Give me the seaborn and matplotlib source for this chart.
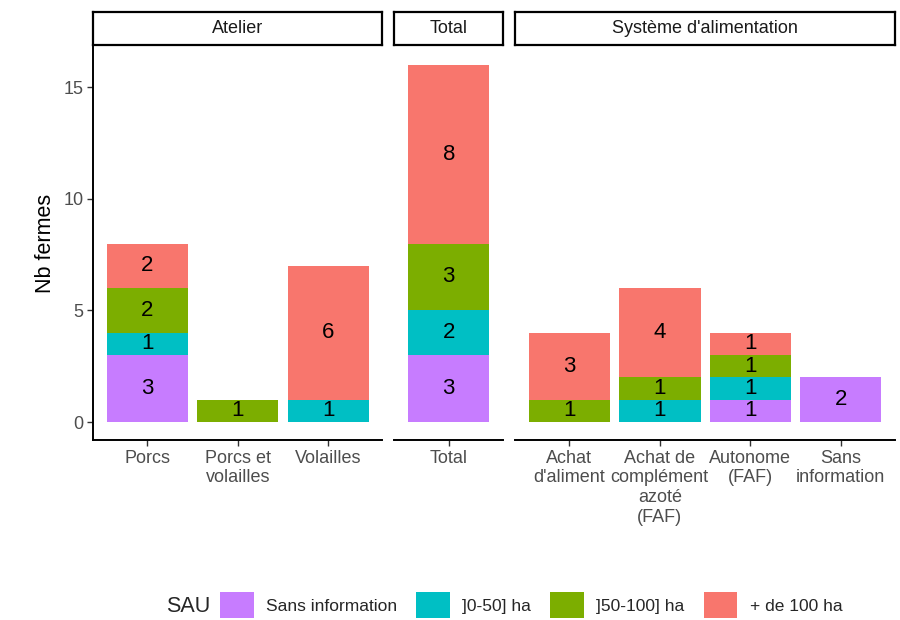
import matplotlib
matplotlib.use("Agg")
import matplotlib.pyplot as plt
from matplotlib.patches import Patch
import seaborn as sns
import pandas as pd
import numpy as np

# ---- data ----
sau_levels = ["Sans information", "]0-50] ha", "]50-100] ha", "+ de 100 ha"]
sau_colors = ["#C77CFF", "#00BFC4", "#7CAE00", "#F8766D"]

panel_titles = ["Atelier", "Total", "Système d'alimentation"]

atelier_cats = ["Porcs", "Porcs et\nvolailles", "Volailles"]
atelier_sans_info = [3, 0, 0]
atelier_0_50 = [1, 0, 1]
atelier_50_100 = [2, 1, 0]
atelier_100_plus = [2, 0, 6]

total_cats = ["Total"]
total_sans_info = [3]
total_0_50 = [2]
total_50_100 = [3]
total_100_plus = [8]

systeme_cats = ["Achat\nd'aliment", "Achat de\ncomplément\nazoté\n(FAF)", "Autonome\n(FAF)", "Sans\ninformation"]
systeme_sans_info = [0, 0, 1, 2]
systeme_0_50 = [0, 1, 1, 0]
systeme_50_100 = [1, 1, 1, 0]
systeme_100_plus = [3, 4, 1, 0]

y_ticks = [0, 5, 10, 15]

panels = [
    (atelier_cats, [atelier_sans_info, atelier_0_50, atelier_50_100, atelier_100_plus]),
    (total_cats, [total_sans_info, total_0_50, total_50_100, total_100_plus]),
    (systeme_cats, [systeme_sans_info, systeme_0_50, systeme_50_100, systeme_100_plus]),
]

# ---- style ----
sns.set_theme(style="white")
plt.rcParams["font.family"] = ["Liberation Sans", "DejaVu Sans"]

W, H = 900, 620
fig = plt.figure(figsize=(W / 100, H / 100), dpi=100)

left_px, right_px = 93, 895
gap_px = 12
top_px, bottom_px = 47, 440
strip_top, strip_bot = 12, 45
units = [len(c) + 0.2 for c, _ in panels]
unit_px = (right_px - left_px - gap_px * (len(panels) - 1)) / sum(units)

ymax_all = max(np.sum(np.array(v), axis=0).max() for _, v in panels)
ylim = (-0.05 * ymax_all, ymax_all * 1.05)

x0 = left_px
for i, ((cats, vals), title) in enumerate(zip(panels, panel_titles)):
    wpx = units[i] * unit_px
    ax = fig.add_axes([x0 / W, 1 - bottom_px / H, wpx / W, (bottom_px - top_px) / H])
    sax = fig.add_axes([x0 / W, 1 - strip_bot / H, wpx / W, (strip_bot - strip_top) / H])
    x0 += wpx + gap_px

    arr = np.array(vals, dtype=float)
    cum = np.cumsum(arr, axis=0)
    # draw from top layer down so lower layers overlay
    for k in range(len(sau_levels) - 1, -1, -1):
        df = pd.DataFrame({"cat": cats, "top": cum[k]})
        sns.barplot(data=df, x="cat", y="top", color=sau_colors[k], width=0.9,
                    saturation=1, ax=ax, order=cats, errorbar=None, linewidth=0)
    for k in range(len(sau_levels)):
        for j in range(len(cats)):
            v = arr[k, j]
            if v > 0:
                ax.text(j, cum[k, j] - v / 2, f"{int(v)}", ha="center", va="center",
                        fontsize=16, color="black")

    ax.set_xlim(-0.6, len(cats) - 0.4)
    ax.set_ylim(*ylim)
    ax.set_xlabel("")
    ax.set_ylabel("")
    for s in ["top", "right"]:
        ax.spines[s].set_visible(False)
    ax.spines["bottom"].set_color("black")
    ax.spines["bottom"].set_linewidth(1.4)
    ax.tick_params(axis="x", bottom=True, length=4, width=1, color="#333333",
                   labelsize=13, labelcolor="#4D4D4D", pad=3)
    if i == 0:
        ax.spines["left"].set_color("black")
        ax.spines["left"].set_linewidth(1.4)
        ax.set_yticks(y_ticks)
        ax.tick_params(axis="y", left=True, length=4, width=1, color="#333333",
                       labelsize=13, labelcolor="#4D4D4D", pad=3)
        ax.set_ylabel("Nb fermes", fontsize=15.5, color="black", labelpad=5)
    else:
        ax.spines["left"].set_visible(False)
        ax.set_yticks([])
    ax.set_facecolor("white")

    sax.set_xticks([])
    sax.set_yticks([])
    for s in sax.spines.values():
        s.set_visible(True)
        s.set_color("black")
        s.set_linewidth(1.6)
    sax.set_facecolor("white")
    sax.text(0.5, 0.5, title, ha="center", va="center", fontsize=13,
             color="#1A1A1A", transform=sax.transAxes)

# ---- legend ----
handles = [Patch(facecolor=c, edgecolor="none", label=l) for c, l in zip(sau_colors, sau_levels)]
fig.text(166 / W, 1 - 607 / H, "SAU", fontsize=15.5, ha="left", va="center")
fig.legend(handles=handles, loc="center left", bbox_to_anchor=(220 / W, 1 - 605 / H),
           ncol=4, frameon=False, fontsize=12.5,
           handlelength=1.95, handleheight=1.9,
           handletextpad=0.7, columnspacing=1.1, borderaxespad=0, borderpad=0)

fig.savefig("out.png", dpi=100, facecolor="white")
